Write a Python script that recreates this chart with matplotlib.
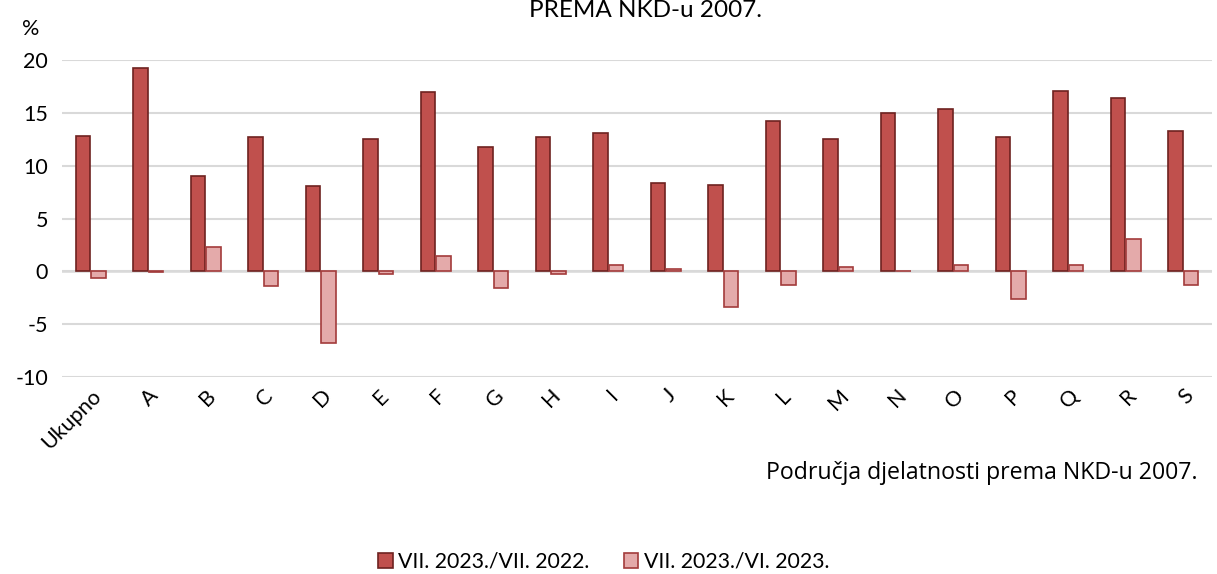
import matplotlib.pyplot as plt
import numpy as np

plt.rcParams['font.family'] = ['Lato', 'DejaVu Sans']

# Data
categories = ["Ukupno", "A", "B", "C", "D", "E", "F", "G", "H", "I",
              "J", "K", "L", "M", "N", "O", "P", "Q", "R", "S"]
yoy = [12.8, 19.2, 9.0, 12.7, 8.1, 12.5, 17.0, 11.8, 12.7, 13.1,
       8.4, 8.2, 14.2, 12.5, 15.0, 15.4, 12.7, 17.1, 16.4, 13.3]
mom = [-0.6, -0.1, 2.3, -1.4, -6.8, -0.2, 1.5, -1.6, -0.2, 0.6,
       0.2, -3.4, -1.3, 0.4, 0.0, 0.6, -2.6, 0.6, 3.1, -1.3]
labels = ["VII. 2023./VII. 2022.", "VII. 2023./VI. 2023."]

fig = plt.figure(figsize=(12.17, 5.74), dpi=100)
ax = fig.add_axes([0.051, 0.343, 0.945, 0.5525])

x = np.arange(len(categories))
w = 0.25
ax.bar(x - 0.135, yoy, w, color='#C0504D', edgecolor='#6E2220', linewidth=1.2,
       label=labels[0], zorder=3)
ax.bar(x + 0.135, mom, w, color='#E4AAAA', edgecolor='#A33B3B', linewidth=1.2,
       label=labels[1], zorder=3)

ax.set_xlim(-0.5, len(categories) - 0.5)
ax.set_ylim(-10, 20)
ax.set_yticks([-10, -5, 0, 5, 10, 15, 20])
ax.set_yticklabels(["-10", "-5", "0", "5", "10", "15", "20"])
ax.grid(axis='y', color='#D9D9D9', linewidth=1.5, zorder=0)
ax.axhline(0, color='#D9D9D9', linewidth=1.8, zorder=2)
for s in ax.spines.values():
    s.set_visible(False)
ax.tick_params(axis='both', length=0, labelsize=15.5)
ax.tick_params(axis='y', pad=10)
ax.tick_params(axis='x', pad=6)
ax.set_xticks(x)
ax.set_xticklabels(categories, rotation=45, ha='right', rotation_mode='anchor')

fig.text(0.53, 0.982, "PREMA NKD-u 2007.", ha='center', va='center', fontsize=17.5)
fig.text(0.025, 0.950, "%", ha='center', va='center', fontsize=15.5)
fig.text(0.984, 0.176, "Područja djelatnosti prema NKD-u 2007.", ha='right',
         va='center', fontsize=16.7, family=['Open Sans', 'DejaVu Sans'])

fig.legend(loc='center', bbox_to_anchor=(0.496, 0.021), ncol=2, frameon=False,
           fontsize=15.3, handlelength=0.7, handleheight=0.7, handletextpad=0.25,
           columnspacing=1.6)

fig.savefig("out.png", dpi=100)
